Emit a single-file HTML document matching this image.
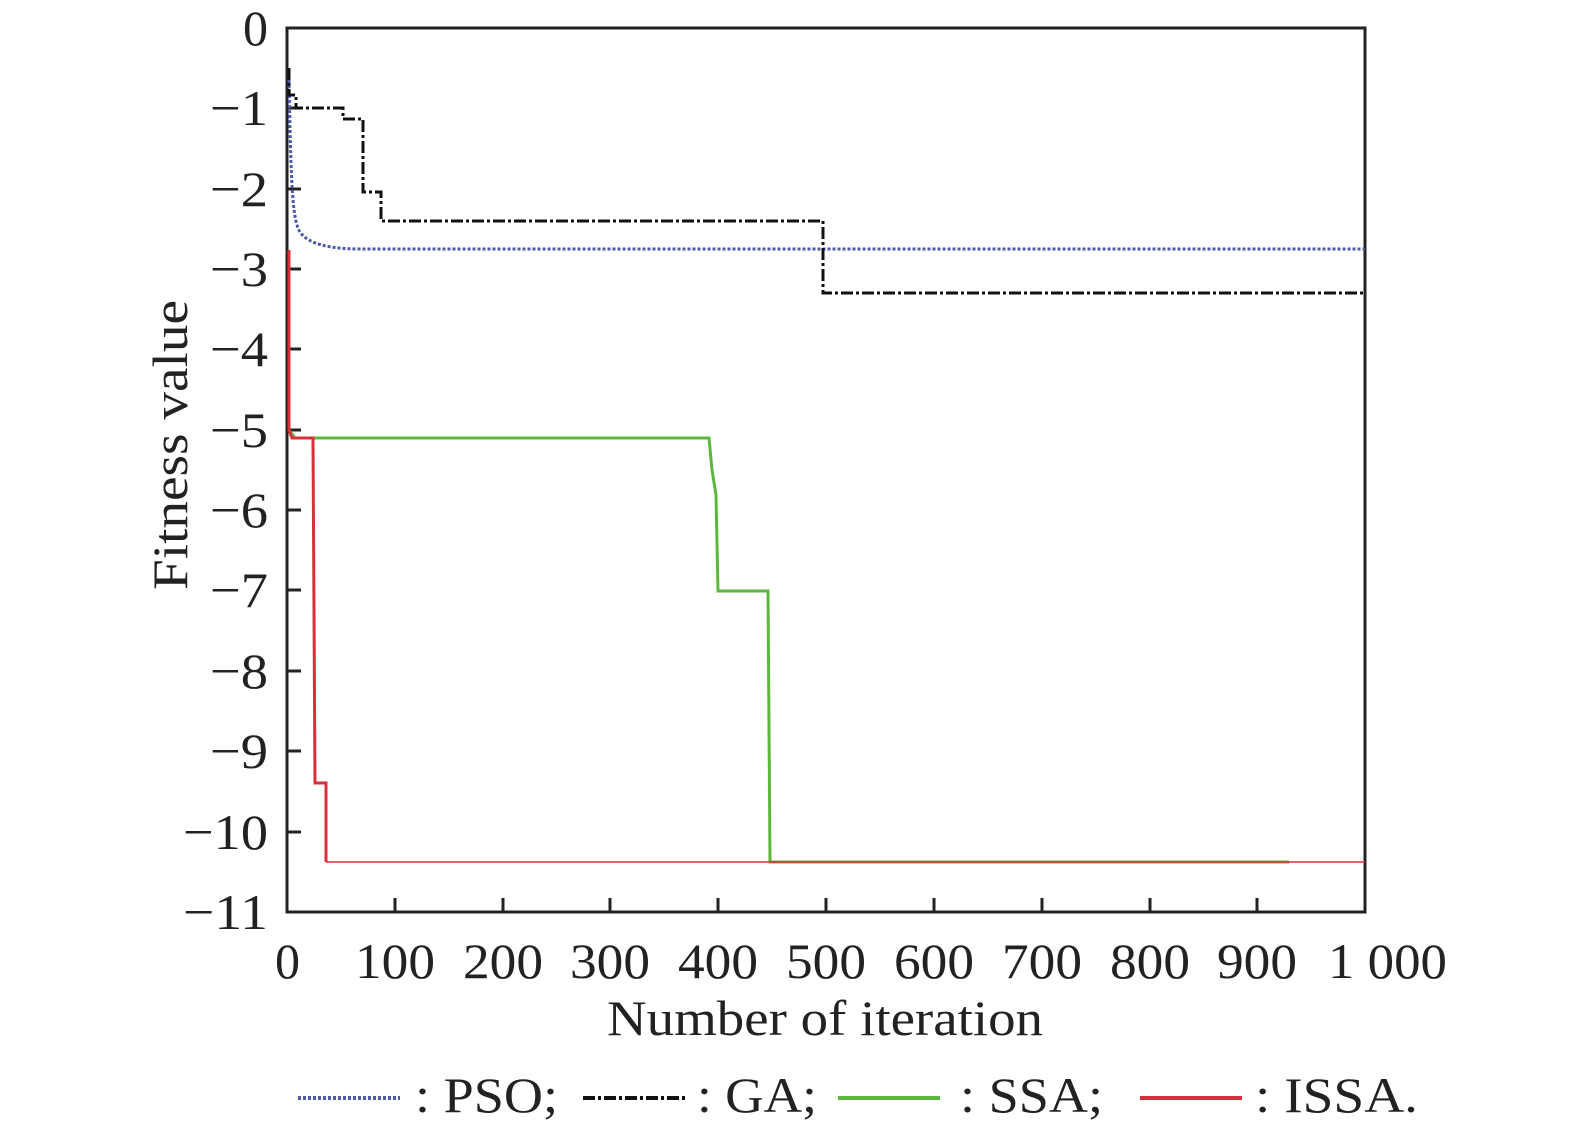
<!DOCTYPE html><html><head><style>body{margin:0;background:#fff}svg text{font-family:"Liberation Serif",serif;fill:#222}</style></head><body>
<svg width="1575" height="1132" xmlns="http://www.w3.org/2000/svg">
<g stroke="#222" stroke-width="3" fill="none">
<rect x="287" y="28" width="1078" height="884"/>
<path d="M287 108h14M287 189h14M287 269h14M287 349h14M287 430h14M287 510h14M287 590h14M287 671h14M287 751h14M287 832h14
M395 912v-14M503 912v-14M610 912v-14M718 912v-14M826 912v-14M934 912v-14M1042 912v-14M1150 912v-14M1257 912v-14"/>
</g>
<g font-size="50" text-anchor="end" lengthAdjust="spacingAndGlyphs">
<text x="268" y="45">0</text>
<text x="268" y="125" textLength="58" lengthAdjust="spacingAndGlyphs">−1</text>
<text x="268" y="206" textLength="58" lengthAdjust="spacingAndGlyphs">−2</text>
<text x="268" y="286" textLength="58" lengthAdjust="spacingAndGlyphs">−3</text>
<text x="268" y="366" textLength="58" lengthAdjust="spacingAndGlyphs">−4</text>
<text x="268" y="447" textLength="58" lengthAdjust="spacingAndGlyphs">−5</text>
<text x="268" y="527" textLength="58" lengthAdjust="spacingAndGlyphs">−6</text>
<text x="268" y="607" textLength="58" lengthAdjust="spacingAndGlyphs">−7</text>
<text x="268" y="688" textLength="58" lengthAdjust="spacingAndGlyphs">−8</text>
<text x="268" y="768" textLength="58" lengthAdjust="spacingAndGlyphs">−9</text>
<text x="268" y="849" textLength="85" lengthAdjust="spacingAndGlyphs">−10</text>
<text x="268" y="929" textLength="85" lengthAdjust="spacingAndGlyphs">−11</text>
</g>
<g font-size="50">
<text x="275" y="978">0</text>
<text x="355" y="978" textLength="80" lengthAdjust="spacingAndGlyphs">100</text>
<text x="463" y="978" textLength="80" lengthAdjust="spacingAndGlyphs">200</text>
<text x="570" y="978" textLength="80" lengthAdjust="spacingAndGlyphs">300</text>
<text x="678" y="978" textLength="80" lengthAdjust="spacingAndGlyphs">400</text>
<text x="786" y="978" textLength="80" lengthAdjust="spacingAndGlyphs">500</text>
<text x="894" y="978" textLength="80" lengthAdjust="spacingAndGlyphs">600</text>
<text x="1002" y="978" textLength="80" lengthAdjust="spacingAndGlyphs">700</text>
<text x="1110" y="978" textLength="80" lengthAdjust="spacingAndGlyphs">800</text>
<text x="1217" y="978" textLength="80" lengthAdjust="spacingAndGlyphs">900</text>
<text x="1328" y="978" textLength="119" lengthAdjust="spacingAndGlyphs">1 000</text>
<text x="607" y="1035" textLength="436" lengthAdjust="spacingAndGlyphs">Number of iteration</text>
<text transform="translate(187,590) rotate(-90)" textLength="290" lengthAdjust="spacingAndGlyphs">Fitness value</text>
</g>
<g fill="none" stroke-width="3">
<path d="M289 80 C291 180 292 220 300 232 S330 249 360 249 H1365" stroke="#4a5aa8" stroke-dasharray="3 2"/>
<path d="M289 68V95H296V108H343V119H363V192H381V221H823V293H1365" stroke="#111" stroke-dasharray="12 3 3 3"/>
<path d="M289 280V430L295 438H709L712 470L716 495L718 591H768L770 862H1289" stroke="#5cb83c"/>
<path d="M289 250V430L292 438H313L315 783H326V862" stroke="#d8303a"/>
<path d="M326 862H1365" stroke="#d8303a" stroke-width="1.5"/>
</g>
<g stroke-width="4" fill="none">
<path d="M298 1098h102" stroke="#4a5aa8" stroke-dasharray="3 2"/>
<path d="M583 1098h102" stroke="#111" stroke-dasharray="12 3 3 3"/>
<path d="M838 1098h102" stroke="#5cb83c"/>
<path d="M1140 1098h102" stroke="#d8303a"/>
</g>
<g font-size="50">
<text x="415" y="1112" textLength="143" lengthAdjust="spacingAndGlyphs">: PSO;</text>
<text x="697" y="1112" textLength="120" lengthAdjust="spacingAndGlyphs">: GA;</text>
<text x="960" y="1112" textLength="143" lengthAdjust="spacingAndGlyphs">: SSA;</text>
<text x="1255" y="1112" textLength="163" lengthAdjust="spacingAndGlyphs">: ISSA.</text>
</g>
</svg></body></html>
